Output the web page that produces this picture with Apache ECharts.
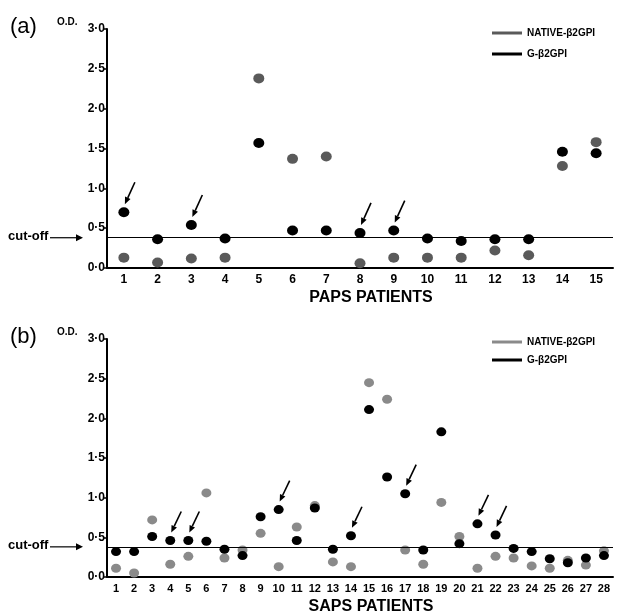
<!DOCTYPE html>
<html>
<head>
<meta charset="utf-8">
<script src="https://cdn.jsdelivr.net/npm/echarts@6/dist/echarts.min.js"></script>
<style>
  html, body { margin: 0; padding: 0; background: #fff; }
  #chart { width: 617px; height: 613px; }
</style>
</head>
<body>
<div id="chart"></div>
<script>
// panel (a): PAPS patients
var papsPatients = ['1','2','3','4','5','6','7','8','9','10','11','12','13','14','15'];
var papsNative = [0.13, 0.07, 0.12, 0.13, 2.38, 1.37, 1.40, 0.06, 0.13, 0.13, 0.13, 0.22, 0.16, 1.28, 1.58];
var papsG      = [0.70, 0.36, 0.54, 0.37, 1.57, 0.47, 0.47, 0.44, 0.47, 0.37, 0.34, 0.36, 0.36, 1.46, 1.44];
var papsArrows = [1, 3, 8, 9];

// panel (b): SAPS patients
var sapsPatients = ['1','2','3','4','5','6','7','8','9','10','11','12','13','14',
  '15','16','17','18','19','20','21','22','23','24','25','26','27','28'];
var sapsNative = [0.11, 0.05, 0.72, 0.16, 0.26, 1.06, 0.24, 0.34, 0.55, 0.13, 0.63, 0.90, 0.19, 0.13,
  2.45, 2.24, 0.34, 0.16, 0.94, 0.51, 0.11, 0.26, 0.24, 0.14, 0.11, 0.21, 0.15, 0.33];
var sapsG      = [0.32, 0.32, 0.51, 0.46, 0.46, 0.45, 0.35, 0.27, 0.76, 0.85, 0.46, 0.87, 0.35, 0.52,
  2.11, 1.26, 1.05, 0.34, 1.83, 0.42, 0.67, 0.53, 0.36, 0.32, 0.23, 0.18, 0.24, 0.27];
var sapsArrows = [4, 5, 10, 14, 17, 21, 22];

var CUTOFF = 0.38;

var FONT = '"Liberation Sans", Arial, sans-serif';
var chart = echarts.init(document.getElementById('chart'));

function arrowData(list, values) {
  return list.map(function (n) { return [n - 1, values[n - 1]]; });
}

function arrowRender(len) {
  return function (params, api) {
    var p = api.coord([api.value(0), api.value(1)]);
    var tip = [p[0] + 1, p[1] - 8];
    var tail = [p[0] + 11, p[1] - 8 - len];
    var dx = tip[0] - tail[0], dy = tip[1] - tail[1];
    var d = Math.sqrt(dx * dx + dy * dy);
    var ux = dx / d, uy = dy / d;
    var hl = 7, hw = 3;
    var base = [tip[0] - ux * hl, tip[1] - uy * hl];
    return {
      type: 'group',
      children: [
        { type: 'line', shape: { x1: tail[0], y1: tail[1], x2: base[0], y2: base[1] },
          style: { stroke: '#000', lineWidth: 1.6 } },
        { type: 'polygon', shape: { points: [tip,
            [base[0] - uy * hw, base[1] + ux * hw],
            [base[0] + uy * hw, base[1] - ux * hw]] },
          style: { fill: '#000' } }
      ]
    };
  };
}

function xAxisFor(idx, cats, fontSize) {
  return {
    type: 'category', gridIndex: idx, data: cats,
    axisLine: { lineStyle: { color: '#000', width: 2 } },
    axisTick: { length: 5, lineStyle: { color: '#000', width: 1.5 } },
    axisLabel: { color: '#000', fontWeight: 'bold', fontSize: fontSize, fontFamily: FONT, margin: 6, interval: 0 },
    splitLine: { show: false }
  };
}

function yAxisFor(idx) {
  return {
    type: 'value', gridIndex: idx, min: 0, max: 3, interval: 0.5,
    axisLine: { show: true, lineStyle: { color: '#000', width: 2 } },
    axisTick: { show: true, length: 4, lineStyle: { color: '#000', width: 1.5 } },
    axisLabel: { color: '#000', fontWeight: 'bold', fontSize: 12, fontFamily: FONT, margin: 2,
      formatter: function (v) { return v.toFixed(1).replace('.', '\u00b7'); } },
    splitLine: { show: false }
  };
}

function legendFor(top, gap, nativeColor) {
  return {
    orient: 'vertical', left: 487, top: top, itemGap: gap,
    icon: 'rect', itemWidth: 30, itemHeight: 3,
    textStyle: { color: '#000', fontWeight: 'bold', fontSize: 10, fontFamily: FONT },
    selectedMode: false,
    data: [
      { name: 'NATIVE-\u03b22GPI', itemStyle: { color: nativeColor } },
      { name: 'G-\u03b22GPI', itemStyle: { color: '#000' } }
    ]
  };
}

var option = {
  animation: false,
  backgroundColor: '#fff',
  grid: [
    { left: 107, right: 4, top: 29, height: 239 },
    { left: 107, right: 4, top: 339, height: 238 }
  ],
  legend: [legendFor(23, 11, '#5a5a5a'), legendFor(332, 8, '#8a8a8a')],
  xAxis: [xAxisFor(0, papsPatients, 12), xAxisFor(1, sapsPatients, 11)],
  yAxis: [yAxisFor(0), yAxisFor(1)],
  series: [
    { name: 'NATIVE-\u03b22GPI', type: 'scatter', xAxisIndex: 0, yAxisIndex: 0,
      data: papsNative, symbolSize: [11, 10], itemStyle: { color: '#5a5a5a', opacity: 1 } },
    { name: 'G-\u03b22GPI', type: 'scatter', xAxisIndex: 0, yAxisIndex: 0,
      data: papsG, symbolSize: [11, 10], itemStyle: { color: '#000', opacity: 1 },
      markLine: { silent: true, symbol: 'none', label: { show: false },
        lineStyle: { color: '#000', width: 1, type: 'solid' }, data: [{ yAxis: CUTOFF }] } },
    { type: 'custom', xAxisIndex: 0, yAxisIndex: 0, data: arrowData(papsArrows, papsG),
      renderItem: arrowRender(22), silent: true },
    { name: 'NATIVE-\u03b22GPI', type: 'scatter', xAxisIndex: 1, yAxisIndex: 1,
      data: sapsNative, symbolSize: [10, 9], itemStyle: { color: '#8a8a8a', opacity: 1 } },
    { name: 'G-\u03b22GPI', type: 'scatter', xAxisIndex: 1, yAxisIndex: 1,
      data: sapsG, symbolSize: [10, 9], itemStyle: { color: '#000', opacity: 1 },
      markLine: { silent: true, symbol: 'none', label: { show: false },
        lineStyle: { color: '#000', width: 1, type: 'solid' }, data: [{ yAxis: CUTOFF }] } },
    { type: 'custom', xAxisIndex: 1, yAxisIndex: 1, data: arrowData(sapsArrows, sapsG),
      renderItem: arrowRender(21), silent: true }
  ]
};
chart.setOption(option);

// annotations placed from the axes
var graphics = [];
[0, 1].forEach(function (i) {
  var yCut = chart.convertToPixel({ yAxisIndex: i }, CUTOFF);
  var yTop = chart.convertToPixel({ yAxisIndex: i }, 3);
  var yZero = chart.convertToPixel({ yAxisIndex: i }, 0);
  graphics.push(
    { type: 'text', left: 10, top: yTop - 13,
      style: { text: i === 0 ? '(a)' : '(b)', font: '22px ' + FONT, fill: '#000' } },
    { type: 'text', left: 57, top: yTop - 12,
      style: { text: 'O.D.', font: 'bold 10px ' + FONT, fill: '#000' } },
    { type: 'text', left: 8, top: yCut - 8,
      style: { text: 'cut-off', font: 'bold 13px ' + FONT, fill: '#000' } },
    { type: 'line', shape: { x1: 50, y1: yCut, x2: 80, y2: yCut },
      style: { stroke: '#000', lineWidth: 1.2 } },
    { type: 'polygon', shape: { points: [[83, yCut], [76, yCut - 3.5], [76, yCut + 3.5]] },
      style: { fill: '#000' } },
    { type: 'text', x: 371, y: yZero + 30, style: {
      text: i === 0 ? 'PAPS PATIENTS' : 'SAPS PATIENTS', font: 'bold 16px ' + FONT,
      fill: '#000', textAlign: 'center', textVerticalAlign: 'middle' } }
  );
});
chart.setOption({ graphic: graphics });
</script>
</body>
</html>
